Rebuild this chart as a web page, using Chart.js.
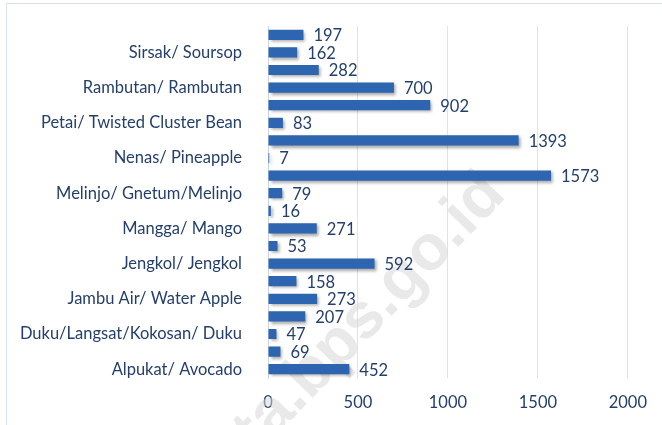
<!DOCTYPE html>
<html>
<head>
<meta charset="utf-8">
<script src="https://cdn.jsdelivr.net/npm/chart.js@4"></script>
<style>
  body { margin: 0; background: #fff; }
  #wrap { position: relative; width: 662px; height: 425px; overflow: hidden; }
  #frame { position: absolute; left: 6px; top: 3px; width: 720px; height: 480px; border: 1px solid #d6e0ee; box-sizing: border-box; }
  #holder { position: absolute; left: 0; top: 0; width: 662px; height: 425px; }
</style>
</head>
<body>
<div id="wrap">
  <div id="frame"></div>
  <div id="holder"><canvas id="grafik"></canvas></div>
</div>
<script>
// kategori dari bawah ke atas
const kategori = [
  'Alpukat/ Avocado', 'Belimbing/ Star Fruit', 'Duku/Langsat/Kokosan/ Duku', 'Durian/ Durian',
  'Jambu Air/ Water Apple', 'Jambu Biji/ Guava', 'Jengkol/ Jengkol', 'Jeruk/ Orange',
  'Mangga/ Mango', 'Manggis/ Mangosteen', 'Melinjo/ Gnetum/Melinjo', 'Nangka/ Jackfruit',
  'Nenas/ Pineapple', 'Pepaya/ Papaya', 'Petai/ Twisted Cluster Bean', 'Pisang/ Banana',
  'Rambutan/ Rambutan', 'Salak/ Zalacca', 'Sirsak/ Soursop', 'Sukun/ Breadfruit'
];
const nilai = [452, 69, 47, 207, 273, 158, 592, 53, 271, 16, 79, 1573, 7, 1393, 83, 902, 700, 282, 162, 197];
const tickX = [0, 500, 1000, 1500, 2000];

const warnaTeks = '#243f6b';
const fontDasar = { family: 'Lato, "Open Sans", sans-serif', size: 16.5 };

// watermark di belakang batang
const watermark = {
  id: 'watermark',
  beforeDatasetsDraw(chart) {
    const ctx = chart.ctx;
    ctx.save();
    ctx.translate(344, 340);
    ctx.rotate(-46 * Math.PI / 180);
    ctx.font = 'bold 64px "Liberation Sans", Arial, sans-serif';
    ctx.fillStyle = 'rgba(215,215,215,0.55)';
    ctx.textAlign = 'center';
    ctx.textBaseline = 'middle';
    ctx.fillText('data.bps.go.id', 0, 0);
    ctx.restore();
  }
};

// bayangan batang
const bayangan = {
  id: 'bayangan',
  beforeDatasetDraw(chart) {
    const ctx = chart.ctx;
    ctx.save();
    ctx.shadowColor = 'rgba(0,0,0,0.35)';
    ctx.shadowBlur = 3;
    ctx.shadowOffsetX = 2;
    ctx.shadowOffsetY = 2;
  },
  afterDatasetDraw(chart) {
    chart.ctx.restore();
  }
};

// label nilai di ujung batang
const labelNilai = {
  id: 'labelNilai',
  afterDatasetsDraw(chart) {
    const ctx = chart.ctx;
    const meta = chart.getDatasetMeta(0);
    ctx.save();
    ctx.font = fontDasar.size + 'px ' + fontDasar.family;
    ctx.fillStyle = warnaTeks;
    ctx.textAlign = 'left';
    ctx.textBaseline = 'middle';
    meta.data.forEach((bar, i) => {
      ctx.fillText(String(nilai[i]), bar.x + 10, bar.y + 1);
    });
    ctx.restore();
  }
};

function buatGrafik() {
  const ctx = document.getElementById('grafik').getContext('2d');
  new Chart(ctx, {
    type: 'bar',
    data: {
      labels: kategori,
      datasets: [{
        data: nilai,
        backgroundColor: '#2e65b0',
        categoryPercentage: 0.58,
        barPercentage: 1
      }]
    },
    options: {
      indexAxis: 'y',
      responsive: true,
      maintainAspectRatio: false,
      animation: false,
      layout: { padding: { top: 26, right: 31, bottom: 0, left: 0 } },
      plugins: {
        legend: { display: false },
        tooltip: { enabled: false }
      },
      scales: {
        x: {
          min: 0,
          max: 2000,
          afterBuildTicks(scale) {
            scale.ticks = tickX.map(v => ({ value: v }));
          },
          afterFit(scale) { scale.height = 47; },
          grid: { color: '#d9e4f2', drawTicks: false },
          border: { display: false },
          ticks: { color: warnaTeks, font: fontDasar, padding: 15, callback: v => String(v) }
        },
        y: {
          reverse: true,
          afterFit(scale) {
            scale.width = 268;
            scale.paddingTop = 0;
            scale.paddingBottom = 0;
          },
          grid: { display: false, drawTicks: false },
          border: { display: true, color: '#c9d6e8' },
          ticks: {
            autoSkip: false,
            color: warnaTeks,
            font: fontDasar,
            padding: 26,
            callback: (v, i) => (i % 2 === 0 ? kategori[i] : '')
          }
        }
      }
    },
    plugins: [watermark, bayangan, labelNilai]
  });
}

window.onload = buatGrafik;
</script>
</body>
</html>
